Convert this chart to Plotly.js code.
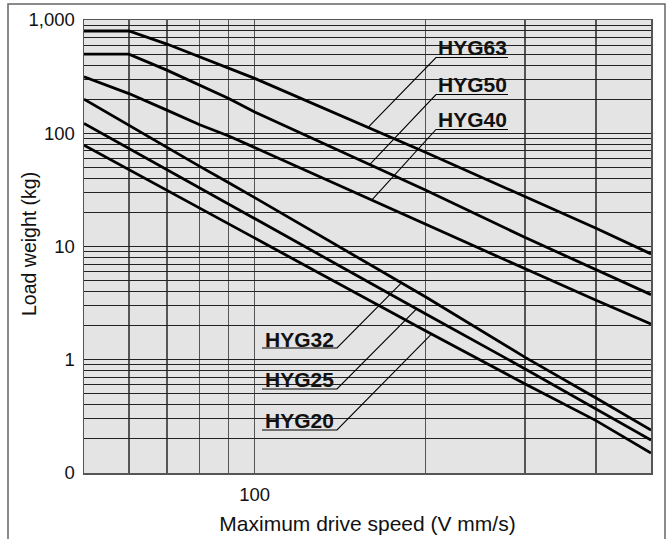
<!DOCTYPE html>
<html><head><meta charset="utf-8">
<script src="https://cdn.plot.ly/plotly-3.0.1.min.js"></script>
<style>html,body{margin:0;padding:0;background:#fff}#chart{width:670px;height:539px}</style>
</head><body><div id="chart"></div>
<script>
// ---------- data ----------
const speed = [50, 60, 70, 80, 90, 100, 200, 300, 400, 500];
const HYG63 = [800, 800, 613, 473, 378, 305, 68, 27.5, 14.5, 8.6];
const HYG50 = [500, 500, 361, 266, 203, 154, 31.5, 12, 6.2, 3.76];
const HYG40 = [315, 224, 160, 119, 94.7, 74.7, 15.9, 6.35, 3.35, 2.07];
const HYG32 = [200, 117, 75, 51, 36.5, 27, 3.6, 1.05, 0.46, 0.239];
const HYG25 = [122, 73.3, 47.6, 32.8, 23.6, 17.6, 2.55, 0.83, 0.37, 0.195];
const HYG20 = [78.3, 47.7, 31.4, 21.8, 15.8, 11.9, 1.8, 0.61, 0.29, 0.150];
const seriesNames = ['HYG63', 'HYG50', 'HYG40', 'HYG32', 'HYG25', 'HYG20'];
const seriesValues = [HYG63, HYG50, HYG40, HYG32, HYG25, HYG20];

const xTickVals = [50, 60, 70, 80, 90, 100, 200, 300, 400, 500];
const xTickText = ['', '', '', '', '', '100', '', '', '', ''];
const yTickVals = [0.1, 0.2, 0.3, 0.4, 0.5, 0.6, 0.7, 0.8, 0.9,
                   1, 2, 3, 4, 5, 6, 7, 8, 9,
                   10, 20, 30, 40, 50, 60, 70, 80, 90,
                   100, 200, 300, 400, 500, 600, 700, 800, 900, 1000];
const yTickText = ['0', '', '', '', '', '', '', '', '',
                   '1', '', '', '', '', '', '', '', '',
                   '10', '', '', '', '', '', '', '', '',
                   '100', '', '', '', '', '', '', '', '', '1,000'];
const xTitle = 'Maximum drive speed (V mm/s)';
const yTitle = 'Load weight (kg)';

// ---------- layout geometry ----------
const M = {l: 84, r: 19, t: 20, b: 66};
const W = 670 - M.l - M.r, H = 539 - M.t - M.b;
const xr = [Math.log10(50), Math.log10(500)], yr = [-1, 3];
const FONT = 'Liberation Sans, Arial, Helvetica, sans-serif';
const PLOT_BG = '#e4e4e4';

function pxToX(px) { return Math.pow(10, xr[0] + (px - M.l) / W * (xr[1] - xr[0])); }
function pxToY(py) { return Math.pow(10, yr[0] + (M.t + H - py) / H * (yr[1] - yr[0])); }
function paperX(px) { return (px - M.l) / W; }
function paperY(py) { return (M.t + H - py) / H; }
function curveAt(vals, x) {
  const lx = Math.log10(x);
  for (let i = 0; i < speed.length - 1; i++) {
    const a = Math.log10(speed[i]), b = Math.log10(speed[i + 1]);
    if (lx >= a && lx <= b) {
      const t = (lx - a) / (b - a);
      return Math.pow(10, Math.log10(vals[i]) + t * (Math.log10(vals[i + 1]) - Math.log10(vals[i])));
    }
  }
  return vals[vals.length - 1];
}

// label placement in page pixels: text centre, underline, leader target speed
const labelPos = {
  HYG63: {cx: 472.5, cy: 47.5, ux0: 436, ux1: 508, uy: 57.5, corner: 'left', target: 158.5},
  HYG50: {cx: 472.5, cy: 84.5, ux0: 436, ux1: 508, uy: 94.5, corner: 'left', target: 159.5},
  HYG40: {cx: 472.5, cy: 119.5, ux0: 436, ux1: 508, uy: 129.5, corner: 'left', target: 161},
  HYG32: {cx: 299.5, cy: 339, ux0: 262, ux1: 337, uy: 348, corner: 'right', target: 181.5},
  HYG25: {cx: 299.5, cy: 379.5, ux0: 262, ux1: 337, uy: 389, corner: 'right', target: 193},
  HYG20: {cx: 299.5, cy: 420.5, ux0: 262, ux1: 337, uy: 430, corner: 'right', target: 205}
};

const traces = [];
seriesNames.forEach((name, i) => {
  traces.push({
    x: speed, y: seriesValues[i], name: name, type: 'scatter', mode: 'lines',
    line: {color: '#000', width: 2.8}, hoverinfo: 'skip', showlegend: false
  });
});

const shapes = [];
const annotations = [];
seriesNames.forEach((name, i) => {
  const p = labelPos[name];
  const cornerPx = p.corner === 'left' ? p.ux0 : p.ux1;
  const otherPx = p.corner === 'left' ? p.ux1 : p.ux0;
  traces.push({
    x: [p.target, pxToX(cornerPx), pxToX(otherPx)],
    y: [curveAt(seriesValues[i], p.target), pxToY(p.uy), pxToY(p.uy)],
    type: 'scatter', mode: 'lines', line: {color: '#000', width: 1.1},
    hoverinfo: 'skip', showlegend: false
  });
  shapes.push({
    type: 'rect', xref: 'paper', yref: 'paper', layer: 'between',
    x0: paperX(p.ux0 - 1), x1: paperX(p.ux1 + 1),
    y0: paperY(p.uy - 1), y1: paperY(p.cy - 11),
    fillcolor: PLOT_BG, line: {width: 0}
  });
  annotations.push({
    text: '<b>' + name + '</b>', xref: 'paper', yref: 'paper',
    x: paperX(p.cx), y: paperY(p.cy), xanchor: 'center', yanchor: 'middle',
    showarrow: false, font: {family: FONT, size: 21, color: '#111'}
  });
});

// y-axis title placed as rotated text
annotations.push({
  text: yTitle, xref: 'paper', yref: 'paper', textangle: -90,
  x: paperX(29), y: paperY(244), xanchor: 'center', yanchor: 'middle',
  showarrow: false, font: {family: FONT, size: 19.5, color: '#111'}
});

// outer frame
shapes.push({
  type: 'rect', xref: 'paper', yref: 'paper', layer: 'above',
  x0: paperX(8), x1: paperX(665), y0: paperY(542), y1: paperY(4),
  line: {color: '#666', width: 1.5}, fillcolor: 'rgba(0,0,0,0)'
});

const layout = {
  width: 670, height: 539,
  margin: M,
  paper_bgcolor: '#fff', plot_bgcolor: PLOT_BG,
  font: {family: FONT, color: '#111'},
  showlegend: false,
  xaxis: {
    type: 'log', range: xr, tickvals: xTickVals, ticktext: xTickText,
    ticks: '', showgrid: true, gridcolor: '#555', gridwidth: 1.5,
    showline: true, mirror: true, linecolor: '#555', linewidth: 1.5,
    zeroline: false, tickfont: {family: FONT, size: 18.5, color: '#111'},
    ticklabelstandoff: 4,
    title: {text: xTitle, font: {family: FONT, size: 21, color: '#111'}, standoff: 12},
    fixedrange: true
  },
  yaxis: {
    type: 'log', range: yr, tickvals: yTickVals, ticktext: yTickText,
    ticks: '', showgrid: true, gridcolor: '#222', gridwidth: 1,
    showline: true, mirror: true, linecolor: '#555', linewidth: 1.5,
    zeroline: false, tickfont: {family: FONT, size: 18.5, color: '#111'},
    ticklabelstandoff: 4,
    fixedrange: true
  },
  shapes: shapes,
  annotations: annotations
};

Plotly.newPlot('chart', traces, layout, {staticPlot: true, displayModeBar: false});
</script>
</body></html>
